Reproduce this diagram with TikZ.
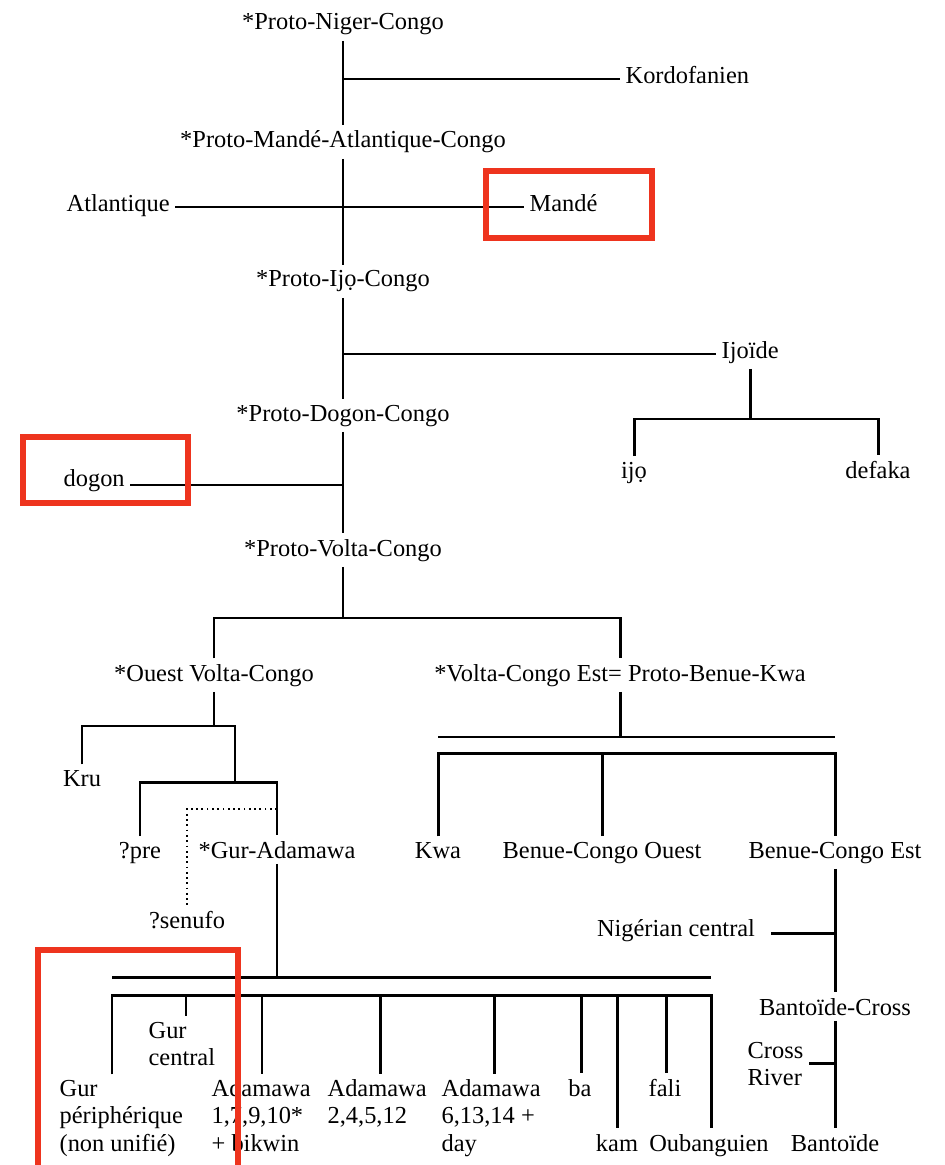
\documentclass[tikz,border=0pt]{standalone}
\usepackage{fontspec}
\setmainfont{Liberation Serif}
\usetikzlibrary{positioning,calc}
\definecolor{markred}{RGB}{238,52,30}
\newcommand\treefont{\fontsize{13.9}{15.6}\selectfont}
\tikzset{lbl/.style={font=\treefont, inner sep=3pt}}
\tikzset{lbl2/.style={lbl, align=left}}
\tikzset{branch/.style={draw, line width=1.7pt}}
\tikzset{dotlink/.style={draw, line width=1pt, dotted}}
\tikzset{hilite/.style={draw=markred, line width=3.6pt}}

\begin{document}
\begin{tikzpicture}[x=0.02cm, y=-0.02cm]
	\fill[white] (0,0) rectangle (944,1165);
	\path[use as bounding box] (0,0) rectangle (944,1165);

	% spine of the tree
	\node[lbl, anchor=base] (pnc) at (343,30) {*Proto-Niger-Congo};
	\node[lbl, anchor=base west] (kordo) at (620,84) {Kordofanien};
	\node[lbl, anchor=base] (pmac) at (343,148) {*Proto-Mandé-Atlantique-Congo};
	\node[lbl, anchor=base west] (atl) at (61,212) {Atlantique};
	\node[lbl, anchor=base west] (mande) at (524,212) {Mandé};
	\node[lbl, anchor=base] (pic) at (343,287) {*Proto-Ijọ-Congo};
	\node[lbl, anchor=base west] (ijoide) at (716,358) {Ijoïde};
	\node[lbl, anchor=base] (pdc) at (343,421) {*Proto-Dogon-Congo};
	\node[lbl, anchor=base] (ijo) at (634,478) {ijọ};
	\node[lbl, anchor=base] (defaka) at (878,478) {defaka};
	\node[lbl, anchor=base west] (dogon) at (58,486) {dogon};
	\node[lbl, anchor=base] (pvc) at (343,556) {*Proto-Volta-Congo};
	\node[lbl, anchor=base] (ovc) at (214,681) {*Ouest Volta-Congo};
	\node[lbl, anchor=base] (vce) at (620,681) {*Volta-Congo Est= Proto-Benue-Kwa};

	% west branch (multi-line labels sit on their last baseline)
	\node[lbl, anchor=base] (kru) at (82,786) {Kru};
	\node[lbl, anchor=base] (pre) at (140,858) {?pre};
	\node[lbl, anchor=base] (gura) at (277,858) {*Gur-Adamawa};
	\node[lbl, anchor=base] (senufo) at (187,928) {?senufo};
	\node[lbl2, anchor=base west] (gurc) at (143,1065.5) {Gur\\central};
	\node[lbl2, anchor=base west] (gurper) at (54,1151) {Gur\\périphérique\\(non unifié)};
	\node[lbl2, anchor=base west] (ada1) at (206,1151) {Adamawa\\1,7,9,10*\\+ bikwin};
	\node[lbl2, anchor=base west] (ada2) at (322,1123.5) {Adamawa\\2,4,5,12};
	\node[lbl2, anchor=base west] (ada6) at (436,1151) {Adamawa\\6,13,14 +\\day};
	\node[lbl, anchor=base] (ba) at (580,1096) {ba};
	\node[lbl, anchor=base] (fali) at (665,1096) {fali};
	\node[lbl, anchor=base] (kam) at (617,1151) {kam};
	\node[lbl, anchor=base] (oub) at (709,1151) {Oubanguien};

	% east branch
	\node[lbl, anchor=base] (kwa) at (438,858) {Kwa};
	\node[lbl, anchor=base] (bco) at (602,858) {Benue-Congo Ouest};
	\node[lbl, anchor=base] (bce) at (835,858) {Benue-Congo Est};
	\node[lbl, anchor=base] (nigc) at (676,936) {Nigérian central};
	\node[lbl, anchor=base] (bcross) at (835,1015) {Bantoïde-Cross};
	\node[lbl2, anchor=base west] (criver) at (742,1085.5) {Cross\\River};
	\node[lbl, anchor=base] (bantoide) at (835,1151) {Bantoïde};

	\coordinate (jk) at (343,79);
	\coordinate (jm) at (343,207);
	\coordinate (ji) at (343,354);
	\coordinate (sij) at (750,419);
	\coordinate (jd) at (343,485);
	\coordinate (svc) at (343,618);
	\coordinate (sov) at (214,726);
	\coordinate (sga) at (235,782);
	\coordinate (dsen) at (277,809);
	\coordinate (beL) at (438,737);
	\coordinate (beR) at (835,737);
	\coordinate (ceR) at (835,753);
	\coordinate (jn) at (835,933);
	\coordinate (jc) at (835,1063);
	\coordinate (bgL) at (112,977);
	\coordinate (bgR) at (711,977);
	\coordinate (cgL) at (112,995);
	\coordinate (cgR) at (711,995);

	\draw[branch] (pnc.south) -- (pmac.north);
	\draw[branch] (jk) -- (jk -| kordo.west);
	\draw[branch] (pmac.south) -- (pic.north);
	\draw[branch] (jm -| atl.east) -- (jm -| mande.west);
	\draw[branch] (pic.south) -- (pdc.north);
	\draw[branch] (ji) -- (ji -| ijoide.west);
	\draw[branch] (ijoide.south) -- (ijoide.south |- sij);
	\draw[branch] (ijo.north) |- (sij) -| (defaka.north);
	\draw[branch] (pdc.south) -- (pvc.north);
	\draw[branch] (jd) -- (jd -| dogon.east);
	\draw[branch] (pvc.south) -- (svc);
	\draw[branch] (ovc.north) |- (svc) -| (vce.north);

	\draw[branch] (ovc.south) -- (sov);
	\draw[branch] (kru.north) |- (sov) -| (sga);
	\draw[branch] (pre.north) |- (sga) -| (gura.north);
	\draw[dotlink] (dsen) -| (senufo.north);
	\draw[branch] (gura.south) -- (gura.south |- bgL);
	\draw[branch] (bgL) -- (bgR);
	\draw[branch] (cgL |- gurper.north) -- (cgL) -- (cgR) -- (cgR |- oub.north);
	\foreach \x/\n in {186/gurc, 262/ada1, 380/ada2, 494/ada6, 581/ba, 617/kam, 666/fali}
		\draw[branch] (\x,995) coordinate (drop) -- (drop |- \n.north);

	\draw[branch] (vce.south) -- (vce.south |- beL);
	\draw[branch] (beL) -- (beR);
	\draw[branch] (kwa.north) |- (ceR) -- (bce.north);
	\draw[branch] (bco.north) -- (bco.north |- ceR);
	\draw[branch] (bce.south) -- (bcross.north);
	\draw[branch, shorten >=6pt] (jn) -- (jn -| nigc.east);
	\draw[branch] (bcross.south) -- (bantoide.north);
	\draw[branch] (jc) -- (jc -| criver.east);

	% highlight frames
	\draw[hilite] (486,171) rectangle (652,238);
	\draw[hilite] (23,437) rectangle (188,503);
	\begin{scope}
		\clip (0,0) rectangle (944,1165);
		\draw[hilite] (38,950) rectangle (238,1195);
	\end{scope}
\end{tikzpicture}
\end{document}
